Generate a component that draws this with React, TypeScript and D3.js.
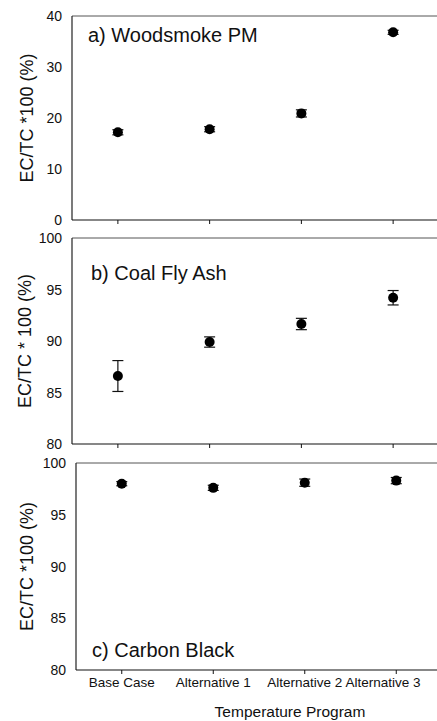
import React from "react";
import * as d3 from "d3";

const categories = ["Base Case", "Alternative 1", "Alternative 2", "Alternative 3"];

const woodMean = [17.2, 17.8, 20.9, 36.8];
const woodErr = [0.5, 0.5, 0.7, 0.4];
const coalMean = [86.6, 89.9, 91.65, 94.2];
const coalErr = [1.5, 0.5, 0.55, 0.7];
const carbonMean = [98.0, 97.6, 98.1, 98.3];
const carbonErr = [0.2, 0.25, 0.35, 0.3];

const woodTicks = [0, 10, 20, 30, 40];
const coalTicks = [80, 85, 90, 95, 100];
const carbonTicks = [80, 85, 90, 95, 100];

const font = "Liberation Sans, Arial, sans-serif";
const W = 437;

type PanelProps = {
  left: number; right: number; top: number; bottom: number;
  domain: [number, number]; ticks: number[];
  mean: number[]; err: number[];
  title: string; titleX: number; titleY: number;
  ylabel: string; ylabelX: number;
  showX?: boolean;
};

function Panel(p: PanelProps) {
  const x = d3.scalePoint<string>().domain(categories).range([p.left, p.right]).padding(0.5);
  const y = d3.scaleLinear().domain(p.domain).range([p.bottom, p.top]);
  return (
    <g>
      <line x1={p.left} x2={p.right} y1={p.top} y2={p.top} stroke="#555" strokeWidth={1} />
      <line x1={p.left} x2={p.left} y1={p.top} y2={p.bottom} stroke="#222" strokeWidth={1.2} />
      <line x1={p.left} x2={p.right} y1={p.bottom} y2={p.bottom} stroke="#111" strokeWidth={1.2} />
      {categories.map((c) => (
        <line key={c} x1={x(c)!} x2={x(c)!} y1={p.bottom} y2={p.bottom + 4} stroke="#111" strokeWidth={1} />
      ))}
      {p.ticks.map((t) => (
        <text key={t} x={p.left - 10} y={y(t) + 5} textAnchor="end" fontSize={14} fontFamily={font} fill="#111">{t}</text>
      ))}
      <text transform={`translate(${p.ylabelX},${(p.top + p.bottom) / 2}) rotate(-90)`} textAnchor="middle" fontSize={18} fontFamily={font} fill="#111">{p.ylabel}</text>
      <text x={p.titleX} y={p.titleY} fontSize={20} fontFamily={font} fill="#111">{p.title}</text>
      {categories.map((c, i) => {
        const cx = x(c)!;
        const y1 = y(p.mean[i] + p.err[i]);
        const y2 = y(p.mean[i] - p.err[i]);
        return (
          <g key={c}>
            <line x1={cx} x2={cx} y1={y1} y2={y2} stroke="#111" strokeWidth={1.2} />
            <line x1={cx - 5.5} x2={cx + 5.5} y1={y1} y2={y1} stroke="#111" strokeWidth={1.2} />
            <line x1={cx - 5.5} x2={cx + 5.5} y1={y2} y2={y2} stroke="#111" strokeWidth={1.2} />
            <circle cx={cx} cy={y(p.mean[i])} r={5} fill="#000" />
          </g>
        );
      })}
      {p.showX && categories.map((c) => (
        <text key={c} x={Math.min(x(c)!, W - 54)} y={p.bottom + 17} textAnchor="middle" fontSize={13.5} fontFamily={font} fill="#111">{c}</text>
      ))}
    </g>
  );
}

export default function App() {
  return (
    <svg width={W} height={721} style={{ position: "absolute", left: 0, top: 0, background: "#fff" }}>
      <rect width={W} height={721} fill="#fff" />
      <Panel left={72} right={439} top={16} bottom={220} domain={[0, 40]} ticks={woodTicks}
        mean={woodMean} err={woodErr} title="a) Woodsmoke PM" titleX={88} titleY={42}
        ylabel="EC/TC *100 (%)" ylabelX={33} />
      <Panel left={72} right={439} top={238} bottom={444} domain={[80, 100]} ticks={coalTicks}
        mean={coalMean} err={coalErr} title="b) Coal Fly Ash" titleX={91} titleY={280}
        ylabel="EC/TC * 100 (%)" ylabelX={31} />
      <Panel left={76} right={442} top={463} bottom={670} domain={[80, 100]} ticks={carbonTicks}
        mean={carbonMean} err={carbonErr} title="c) Carbon Black" titleX={92} titleY={657}
        ylabel="EC/TC *100 (%)" ylabelX={33} showX />
      <text x={290} y={717} textAnchor="middle" fontSize={15.5} fontFamily={font} fill="#111">Temperature Program</text>
    </svg>
  );
}
